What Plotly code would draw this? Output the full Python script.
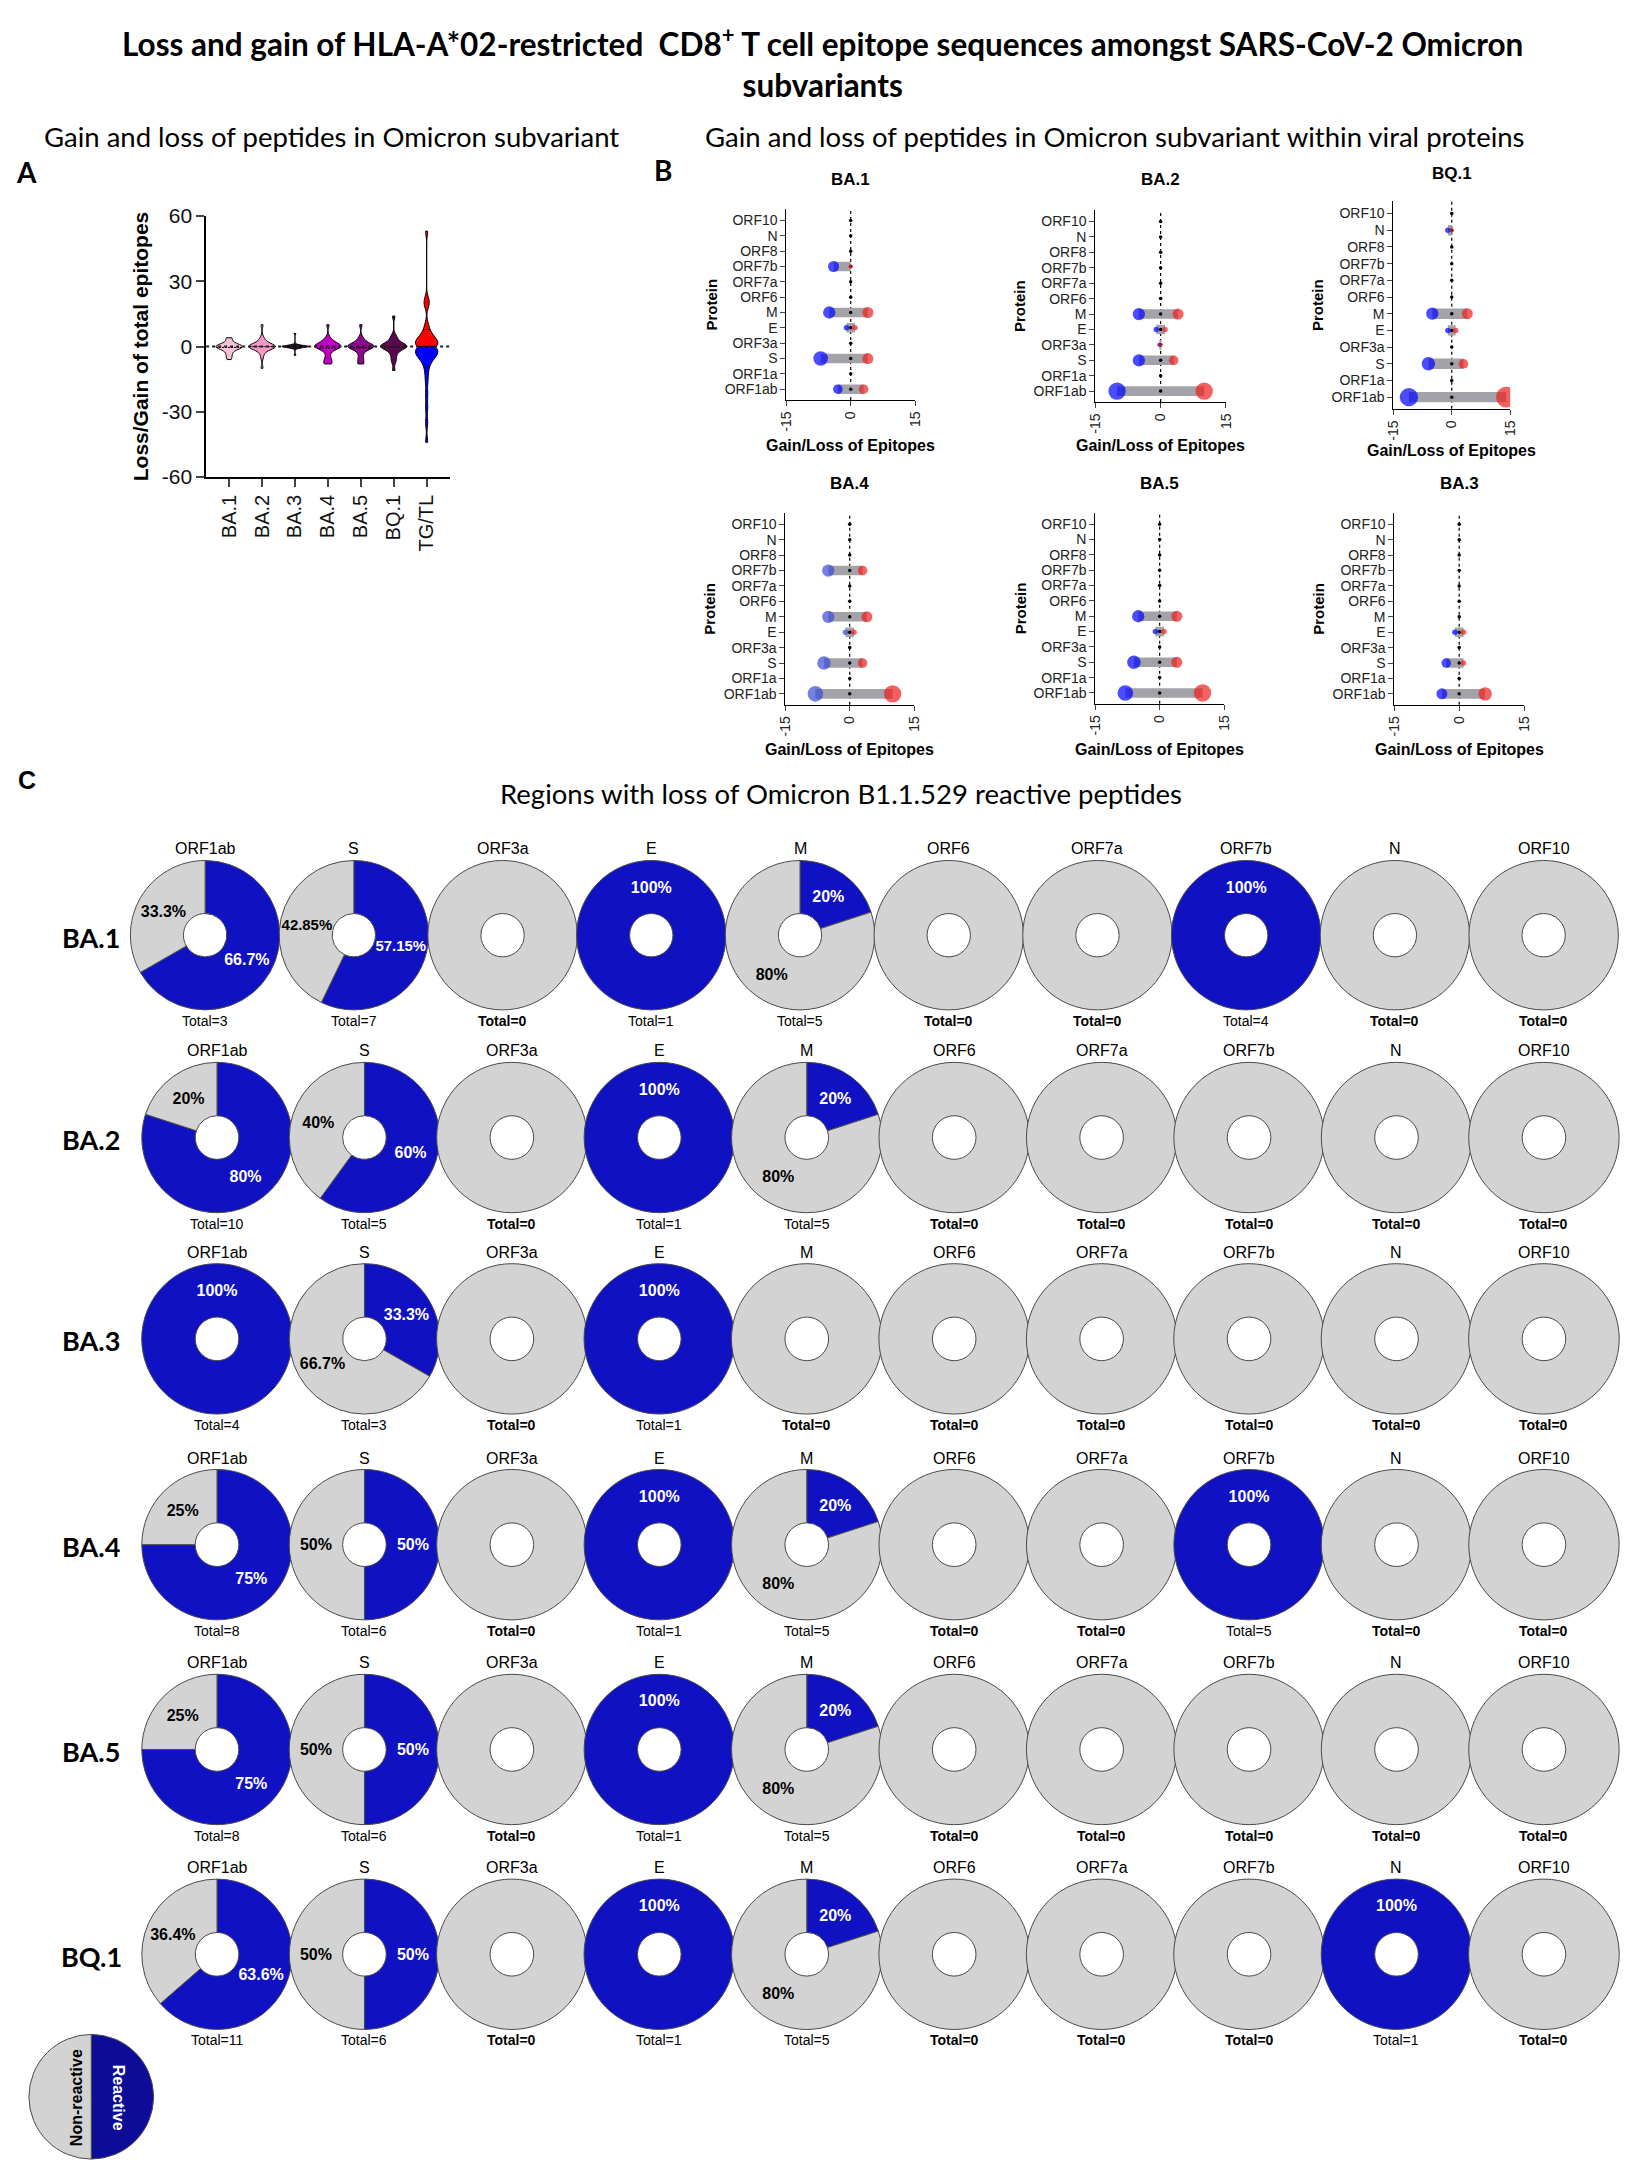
import math
import plotly.graph_objects as go

W, H = 1628, 2170

# ---------------- panel A : gain/loss of total epitopes per subvariant ----------------
VARIANTS_A = ["BA.1", "BA.2", "BA.3", "BA.4", "BA.5", "BQ.1", "TG/TL"]
A_BA1 = [4, 4, 3, 1, 1, 0, 0, 0, 0, 0, 0, 0, 0, 0, 0, -1, -1, -2, -3, -4, -5, -6]
A_BA2 = [10, 4, 3, 2, 1, 1, 0, 0, 0, 0, 0, 0, 0, 0, 0, 0, -1, -1, -2, -3, -5, -10]
A_BA3 = [6, 1, 0, 0, 0, 0, 0, 0, 0, 0, 0, 0, 0, 0, 0, 0, -1, -4]
A_BA4 = [10, 4, 3, 2, 2, 1, 1, 0, 0, 0, 0, 0, 0, 0, 0, -1, -2, -3, -5, -6, -7, -8, -8]
A_BA5 = [10, 4, 3, 2, 1, 1, 0, 0, 0, 0, 0, 0, 0, 0, -1, -2, -3, -5, -6, -8, -8]
A_BQ1 = [14, 5, 4, 3, 2, 1, 1, 0, 0, 0, 0, 0, 0, 0, 0, -1, -2, -3, -4, -6, -7, -11]
A_TG = [0, 0, 0, 0, 1, 1, 1, 2, 2, 3, 3, 4, 4, 5, 6, 8, 10, 19, 20, 22, 53]
A_TL = [0, 0, 0, -1, -1, -2, -2, -3, -3, -3, -4, -4, -5, -6, -7, -9, -12, -16, -22, -28, -35, -44]

# ---------------- panel B : gain/loss within viral proteins ----------------
PROTEINS_B = ["ORF1ab", "ORF1a", "S", "ORF3a", "E", "M", "ORF6", "ORF7a", "ORF7b", "ORF8", "N", "ORF10"]
BA1_LOSS = [-3, 0, -7, 0, -1, -5, 0, 0, -4, 0, 0, 0]
BA1_GAIN = [3, 0, 4, 0, 1, 4, 0, 0, 0, 0, 0, 0]
BA2_LOSS = [-10, 0, -5, -0.3, -1, -5, 0, 0, 0, 0, 0, 0]
BA2_GAIN = [10, 0, 3, 0, 1, 4, 0, 0, 0, 0, 0, 0]
BQ1_LOSS = [-11, 0, -6, 0, -1, -5, 0, 0, 0, 0, -1, 0]
BQ1_GAIN = [14, 0, 3, 0, 1, 4, 0, 0, 0, 0, 0, 0]
BA4_LOSS = [-8, 0, -6, 0, -1, -5, 0, 0, -5, 0, 0, 0]
BA4_GAIN = [10, 0, 3, 0, 1, 4, 0, 0, 3, 0, 0, 0]
BA5_LOSS = [-8, 0, -6, 0, -1, -5, 0, 0, 0, 0, 0, 0]
BA5_GAIN = [10, 0, 4, 0, 1, 4, 0, 0, 0, 0, 0, 0]
BA3_LOSS = [-4, 0, -3, 0, -1, 0, 0, 0, 0, 0, 0, 0]
BA3_GAIN = [6, 0, 1, 0, 1, 0, 0, 0, 0, 0, 0, 0]

# ---------------- panel C : % reactive peptides lost per region ----------------
PROTEINS_C = ["ORF1ab", "S", "ORF3a", "E", "M", "ORF6", "ORF7a", "ORF7b", "N", "ORF10"]
ROWS_C = ["BA.1", "BA.2", "BA.3", "BA.4", "BA.5", "BQ.1"]
C_BA1_REACTIVE = [66.7, 57.15, 0, 100, 20, 0, 0, 100, 0, 0]
C_BA1_TOTAL = [3, 7, 0, 1, 5, 0, 0, 4, 0, 0]
C_BA2_REACTIVE = [80, 60, 0, 100, 20, 0, 0, 0, 0, 0]
C_BA2_TOTAL = [10, 5, 0, 1, 5, 0, 0, 0, 0, 0]
C_BA3_REACTIVE = [100, 33.3, 0, 100, 0, 0, 0, 0, 0, 0]
C_BA3_TOTAL = [4, 3, 0, 1, 0, 0, 0, 0, 0, 0]
C_BA4_REACTIVE = [75, 50, 0, 100, 20, 0, 0, 100, 0, 0]
C_BA4_TOTAL = [8, 6, 0, 1, 5, 0, 0, 5, 0, 0]
C_BA5_REACTIVE = [75, 50, 0, 100, 20, 0, 0, 0, 0, 0]
C_BA5_TOTAL = [8, 6, 0, 1, 5, 0, 0, 0, 0, 0]
C_BQ1_REACTIVE = [63.6, 50, 0, 100, 20, 0, 0, 0, 100, 0]
C_BQ1_TOTAL = [11, 6, 0, 1, 5, 0, 0, 0, 1, 0]
LEGEND_LABELS = ["Reactive", "Non-reactive"]


def fx(px):
    return px / W


def fy(py):
    return 1 - py / H


ARIAL = "Liberation Sans"
CALIBRI = "Lato"
BLUE_C = "#1111c4"
GRAY_C = "#d3d3d3"

fig = go.Figure()
annotations = []
shapes = []
layout_axes = {}


def note(text, x, y, size, family=ARIAL, angle=0, xanchor="center", color="black"):
    annotations.append(dict(
        text=text, x=fx(x), y=fy(y), xref="paper", yref="paper",
        xanchor=xanchor, yanchor="middle", showarrow=False, textangle=angle,
        font=dict(family=family, size=size, color=color),
    ))


# ── titles ────────────────────────────────────────────────────────────────────
note("<b>Loss and gain of HLA-A*02-restricted  CD8<sup>+</sup> T cell epitope sequences amongst SARS-CoV-2 Omicron"
     "<br>subvariants</b>", 814, 43, 31.5, CALIBRI)
note("Gain and loss of peptides in Omicron subvariant", 26, 118, 27.5, CALIBRI, xanchor="left")
note("Gain and loss of peptides in Omicron subvariant within viral proteins", 694, 118, 27.5, CALIBRI,
     xanchor="left")
note("Regions with loss of Omicron B1.1.529 reactive peptides", 487, 782, 27.5, CALIBRI, xanchor="left")
note("<b>A</b>", 11, 154, 28, CALIBRI)
note("<b>B</b>", 653, 152, 28, CALIBRI)
note("<b>C</b>", 11, 768, 25, ARIAL)

# ── panel A : violins ─────────────────────────────────────────────────────────
violins = [
    ("BA.1", A_BA1, "#f8c3d8", 1.2, 0.8),
    ("BA.2", A_BA2, "#f39ac5", 1.3, 0.8),
    ("BA.3", A_BA3, "#1c0c1c", 0.5, 0.8),
    ("BA.4", A_BA4, "#c000c4", 1.3, 0.8),
    ("BA.5", A_BA5, "#8e0a8c", 1.3, 0.8),
    ("BQ.1", A_BQ1, "#5a0a4c", 1.4, 0.8),
    ("TG/TL", A_TG, "#ff0000", 2.2, 0.68),
    ("TG/TL", A_TL, "#0000ff", 2.4, 0.68),
]
for name, vals, col, bw, wd in violins:
    fig.add_trace(go.Violin(
        x=[name] * len(vals), y=vals, xaxis="x", yaxis="y",
        fillcolor=col, line=dict(color="black", width=1), opacity=1,
        points=False, spanmode="hard", bandwidth=bw, width=wd,
        meanline=dict(visible=True, color="black", width=1),
        showlegend=False, hoverinfo="skip",
    ))

layout_axes["xaxis"] = dict(
    domain=[fx(192), fx(438)], anchor="y", type="category",
    categoryorder="array", categoryarray=VARIANTS_A, range=[-0.7, 6.7],
    showline=True, linecolor="black", linewidth=1.5, ticks="outside", ticklen=8,
    tickwidth=1.5, tickangle=-90, showgrid=False, zeroline=False,
    tickfont=dict(family=ARIAL, size=20, color="#111"),
)
layout_axes["yaxis"] = dict(
    domain=[fy(462), fy(198)], anchor="x", range=[-60, 60],
    tickvals=[-60, -30, 0, 30, 60], ticktext=["-60", "-30", "0", "30", "60"],
    showline=True, linecolor="black", linewidth=1.5, ticks="outside", ticklen=8,
    tickwidth=1.5, showgrid=False, zeroline=False,
    tickfont=dict(family=ARIAL, size=21, color="#111"),
)
shapes.append(dict(type="line", xref="x domain", yref="y", x0=0, x1=1, y0=0, y1=0,
                   line=dict(color="#222", width=2, dash="dot")))
note("<b>Loss/Gain of total epitopes</b>", 126, 330, 21, angle=-90)

# ── panel B : dumbbells ──────────────────────────────────────────────────────
panels_b = [
    # name, loss, gain, blue, x0, x1, y0, y1, title_y, xtitle_y
    ("BA.1", BA1_LOSS, BA1_GAIN, "#0000ff", 778, 908, 191, 384, 161, 430),
    ("BA.2", BA2_LOSS, BA2_GAIN, "#0000ff", 1090, 1222, 192, 386, 161, 430),
    ("BQ.1", BQ1_LOSS, BQ1_GAIN, "#0000ff", 1391, 1509, 183, 393, 155, 435),
    ("BA.4", BA4_LOSS, BA4_GAIN, "#3a4ad6", 777, 907, 498, 692, 468, 737),
    ("BA.5", BA5_LOSS, BA5_GAIN, "#0000ff", 1090, 1220, 498, 691, 468, 737),
    ("BA.3", BA3_LOSS, BA3_GAIN, "#0000ff", 1392, 1523, 498, 692, 468, 737),
]


def dot(v):
    return 5.5 * math.sqrt(max(abs(v), 0.6))


for k, (name, loss, gain, blue, x0, x1, y0, y1, ty, xty) in enumerate(panels_b, start=2):
    xa, ya = f"x{k}", f"y{k}"
    fig.add_trace(go.Scatter(
        x=[0] * len(PROTEINS_B), y=PROTEINS_B, mode="markers", xaxis=xa, yaxis=ya,
        marker=dict(color="black", size=3.5), showlegend=False, hoverinfo="skip",
    ))
    fig.add_trace(go.Bar(
        y=PROTEINS_B, x=[g - l for g, l in zip(gain, loss)], base=loss, orientation="h",
        marker=dict(color="#a2a2a8", line=dict(width=0)), width=0.62,
        xaxis=xa, yaxis=ya, showlegend=False, hoverinfo="skip",
    ))
    shown = [i for i in range(len(PROTEINS_B)) if loss[i] != 0 or gain[i] != 0]
    fig.add_trace(go.Scatter(
        x=[loss[i] for i in shown], y=[PROTEINS_B[i] for i in shown], mode="markers",
        marker=dict(color=blue, size=[dot(loss[i]) for i in shown], line=dict(width=0)),
        xaxis=xa, yaxis=ya, showlegend=False, hoverinfo="skip",
    ))
    fig.add_trace(go.Scatter(
        x=[gain[i] for i in shown], y=[PROTEINS_B[i] for i in shown], mode="markers",
        marker=dict(color="#f01e1e", size=[dot(gain[i]) for i in shown], line=dict(width=0)),
        xaxis=xa, yaxis=ya, showlegend=False, hoverinfo="skip",
    ))
    layout_axes[f"xaxis{k}"] = dict(
        domain=[fx(x0), fx(x1)], anchor=ya, range=[-15, 15],
        tickvals=[-15, 0, 15], ticktext=["-15", "0", "15"], tickangle=-90,
        showline=True, linecolor="black", linewidth=1, ticks="outside", ticklen=5,
        showgrid=False, zeroline=False, tickfont=dict(family=ARIAL, size=14, color="#222"),
    )
    layout_axes[f"yaxis{k}"] = dict(
        domain=[fy(y1), fy(y0)], anchor=xa, type="category",
        categoryorder="array", categoryarray=PROTEINS_B, range=[-0.7, 11.75],
        tickmode="array", tickvals=PROTEINS_B, ticktext=PROTEINS_B,
        showline=True, linecolor="black", linewidth=1, ticks="outside", ticklen=5,
        showgrid=False, zeroline=False, tickfont=dict(family=ARIAL, size=14, color="#222"),
    )
    shapes.append(dict(type="line", xref=xa, yref=f"{ya} domain", x0=0, x1=0, y0=0, y1=1,
                       line=dict(color="black", width=1.2, dash="dot"), layer="below"))
    zero_px = (x0 + x1) / 2
    note(f"<b>{name}</b>", zero_px, ty, 17)
    note("<b>Gain/Loss of Epitopes</b>", zero_px, xty, 16)
    note("<b>Protein</b>", x0 - 76, (y0 + y1) / 2, 15, angle=-90)

# ── panel C : donuts ─────────────────────────────────────────────────────────
reactive_rows = [C_BA1_REACTIVE, C_BA2_REACTIVE, C_BA3_REACTIVE,
                 C_BA4_REACTIVE, C_BA5_REACTIVE, C_BQ1_REACTIVE]
total_rows = [C_BA1_TOTAL, C_BA2_TOTAL, C_BA3_TOTAL,
              C_BA4_TOTAL, C_BA5_TOTAL, C_BQ1_TOTAL]
row_cy = [925, 1129.5, 1333, 1541, 1748, 1955]

for r, (row_name, reacts, totals) in enumerate(zip(ROWS_C, reactive_rows, total_rows)):
    cy = row_cy[r]
    first_cx, step, half = (191, 150.2, 75.5) if r == 0 else (203, 148.9, 76)
    note(f"<b>{row_name}</b>", 76, cy + 2, 27, CALIBRI)
    for j, prot in enumerate(PROTEINS_C):
        cx = first_cx + step * j
        pct = reacts[j]
        rest = round(100 - pct, 2)
        values, labels, colors, texts, tcols = [], [], [], [], []
        if pct > 0:
            values.append(pct); labels.append("Reactive"); colors.append(BLUE_C)
            texts.append(f"{pct:g}%"); tcols.append("white")
        if rest > 0:
            values.append(rest); labels.append("Non-reactive"); colors.append(GRAY_C)
            texts.append(f"{rest:g}%" if totals[j] else ""); tcols.append("black")
        has_text = totals[j] > 0
        fig.add_trace(go.Pie(
            values=values, labels=labels, text=texts,
            texttemplate="<b>%{text}</b>" if has_text else None,
            textinfo="text" if has_text else "none",
            textposition="inside", insidetextorientation="horizontal",
            textfont=dict(family=ARIAL, size=16, color=tcols),
            marker=dict(colors=colors, line=dict(color="#4a4a4a", width=1)),
            hole=0.29, sort=False, direction="clockwise",
            rotation=180 if pct == 100 else 0,
            domain=dict(x=[fx(cx - half), fx(cx + half)], y=[fy(cy + half), fy(cy - half)]),
            showlegend=False, hoverinfo="skip",
        ))
        note(prot, cx, cy - 87.5, 16)
        tot = f"<b>Total={totals[j]}</b>" if totals[j] == 0 else f"Total={totals[j]}"
        note(tot, cx, cy + 87, 14)

# legend disc (labels written along the halves)
fig.add_trace(go.Pie(
    values=[50, 50], labels=LEGEND_LABELS, sort=False, direction="clockwise",
    textinfo="none",
    marker=dict(colors=["#0c0c98", GRAY_C], line=dict(color="#4a4a4a", width=1)),
    domain=dict(x=[fx(13), fx(139)], y=[fy(2162), fy(2036)]),
    showlegend=False, hoverinfo="skip",
))
note(f"<b>{LEGEND_LABELS[0]}</b>", 103, 2100, 16, angle=90, color="white")
note(f"<b>{LEGEND_LABELS[1]}</b>", 61, 2100, 16, angle=-90)

fig.update_layout(
    width=W, height=H,
    margin=dict(l=0, r=0, t=0, b=0),
    paper_bgcolor="white", plot_bgcolor="white",
    font=dict(family=ARIAL, color="black"),
    violinmode="overlay", barmode="overlay",
    showlegend=False,
    annotations=annotations, shapes=shapes,
    **layout_axes,
)

fig.write_html("out.html")
